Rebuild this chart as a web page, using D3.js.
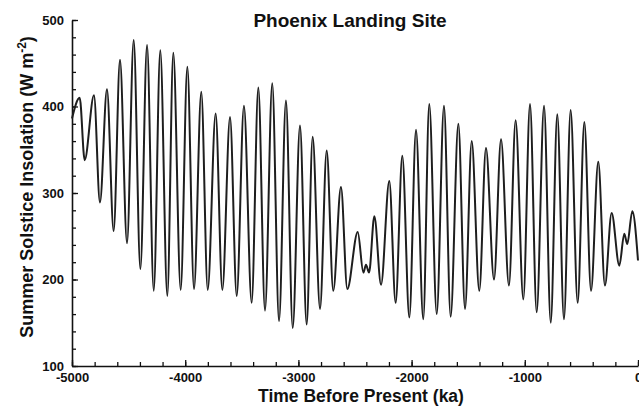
<!DOCTYPE html>
<html>
<head>
<meta charset="utf-8">
<script src="https://cdn.jsdelivr.net/npm/d3@7"></script>
<style>
  body { margin: 0; background: #fff; }
  text { font-family: "Liberation Sans", Arial, sans-serif; font-weight: bold; fill: #111; }
</style>
</head>
<body>
<svg id="chart" width="639" height="409"></svg>
<script>
// turning points of the insolation curve
const timeKa = [
  -5000, -4932, -4888, -4806, -4753, -4691, -4632, -4576, -4514, -4455,
  -4396, -4337, -4278, -4220, -4158, -4105, -4040, -3981, -3922, -3858,
  -3801, -3731, -3672, -3604, -3545, -3481, -3413, -3354, -3295, -3231,
  -3171, -3110, -3050, -2986, -2927, -2874, -2809, -2750, -2692, -2624,
  -2568, -2476, -2426, -2403, -2376, -2329, -2270, -2197, -2141, -2082,
  -2020, -1961, -1897, -1844, -1778, -1714, -1655, -1587, -1528, -1469,
  -1402, -1343, -1272, -1210, -1140, -1081, -1013, -954, -895, -830,
  -771, -713, -654, -595, -533, -474, -415, -351, -292, -233,
  -165, -121, -95, -50, 0
]
const insolation = [
  386, 410, 338, 413, 289, 420, 256, 454, 242, 477,
  212, 471, 187, 465, 181, 462, 188, 446, 189, 417,
  188, 392, 188, 388, 181, 401, 173, 422, 164, 427,
  152, 407, 144, 378, 148, 365, 166, 349, 187, 307,
  189, 255, 208, 217, 208, 273, 194, 314, 173, 343,
  156, 373, 154, 403, 160, 401, 157, 380, 166, 360,
  187, 352, 200, 362, 193, 384, 177, 403, 162, 401,
  150, 391, 154, 396, 173, 382, 187, 336, 193, 277,
  216, 253, 241, 279, 222
]
const xTicks = [-5000, -4000, -3000, -2000, -1000, 0]
const yTicks = [100, 200, 300, 400, 500]

const svg = d3.select('#chart')
const plotLeft = 72, plotRight = 638, plotTop = 20, plotBottom = 366

const x = d3.scaleLinear().domain([-5000, 0]).range([plotLeft, plotRight])
const y = d3.scaleLinear().domain([100, 500]).range([plotBottom, plotTop])

const points = timeKa.map((t, i) => ({t, v: insolation[i]}))

// minor ticks
svg.append('g')
  .attr('transform', `translate(0,${plotBottom})`)
  .call(d3.axisBottom(x).tickValues(d3.range(-5000, 1, 200)).tickSize(-4).tickFormat(''))
  .call(g => g.select('.domain').remove())
svg.append('g')
  .attr('transform', `translate(${plotLeft},0)`)
  .call(d3.axisLeft(y).tickValues(d3.range(100, 501, 20)).tickSize(-4).tickFormat(''))
  .call(g => g.select('.domain').remove())

// major axes
svg.append('g')
  .attr('transform', `translate(0,${plotBottom})`)
  .call(d3.axisBottom(x).tickValues(xTicks).tickSize(-6).tickSizeOuter(0).tickPadding(7)
    .tickFormat(d => String(d)))
svg.append('g')
  .attr('transform', `translate(${plotLeft},0)`)
  .call(d3.axisLeft(y).tickValues(yTicks).tickSize(-6).tickSizeOuter(0).tickPadding(8)
    .tickFormat(d => String(d)))

svg.selectAll('.tick line').attr('stroke', '#111').attr('stroke-width', 1.3)
svg.selectAll('.domain').attr('stroke', '#111').attr('stroke-width', 1.6)
svg.selectAll('.tick text')
  .style('font-family', '"Liberation Sans", Arial, sans-serif')
  .style('font-weight', 'bold')
  .style('font-size', '13px')
  .attr('fill', '#111')

const line = d3.line()
  .x(d => x(d.t))
  .y(d => y(d.v))
  .curve(d3.curveMonotoneX)

svg.append('path')
  .datum(points)
  .attr('fill', 'none')
  .attr('stroke', '#1e1e1e')
  .attr('stroke-width', 2)
  .attr('stroke-linejoin', 'round')
  .attr('d', line)

// titles
svg.append('text')
  .attr('x', 350).attr('y', 27)
  .attr('text-anchor', 'middle')
  .style('font-size', '19px')
  .text('Phoenix Landing Site')

svg.append('text')
  .attr('x', 361).attr('y', 402)
  .attr('text-anchor', 'middle')
  .style('font-size', '17.5px')
  .text('Time Before Present (ka)')

const yTitle = svg.append('text')
  .attr('transform', 'translate(33,187) rotate(-90)')
  .attr('text-anchor', 'middle')
  .style('font-size', '18px')
yTitle.append('tspan').text('Summer Solstice Insolation (W m')
yTitle.append('tspan').attr('dy', -7).style('font-size', '12px').text('-2')
yTitle.append('tspan').attr('dy', 7).text(')')
</script>
</body>
</html>
